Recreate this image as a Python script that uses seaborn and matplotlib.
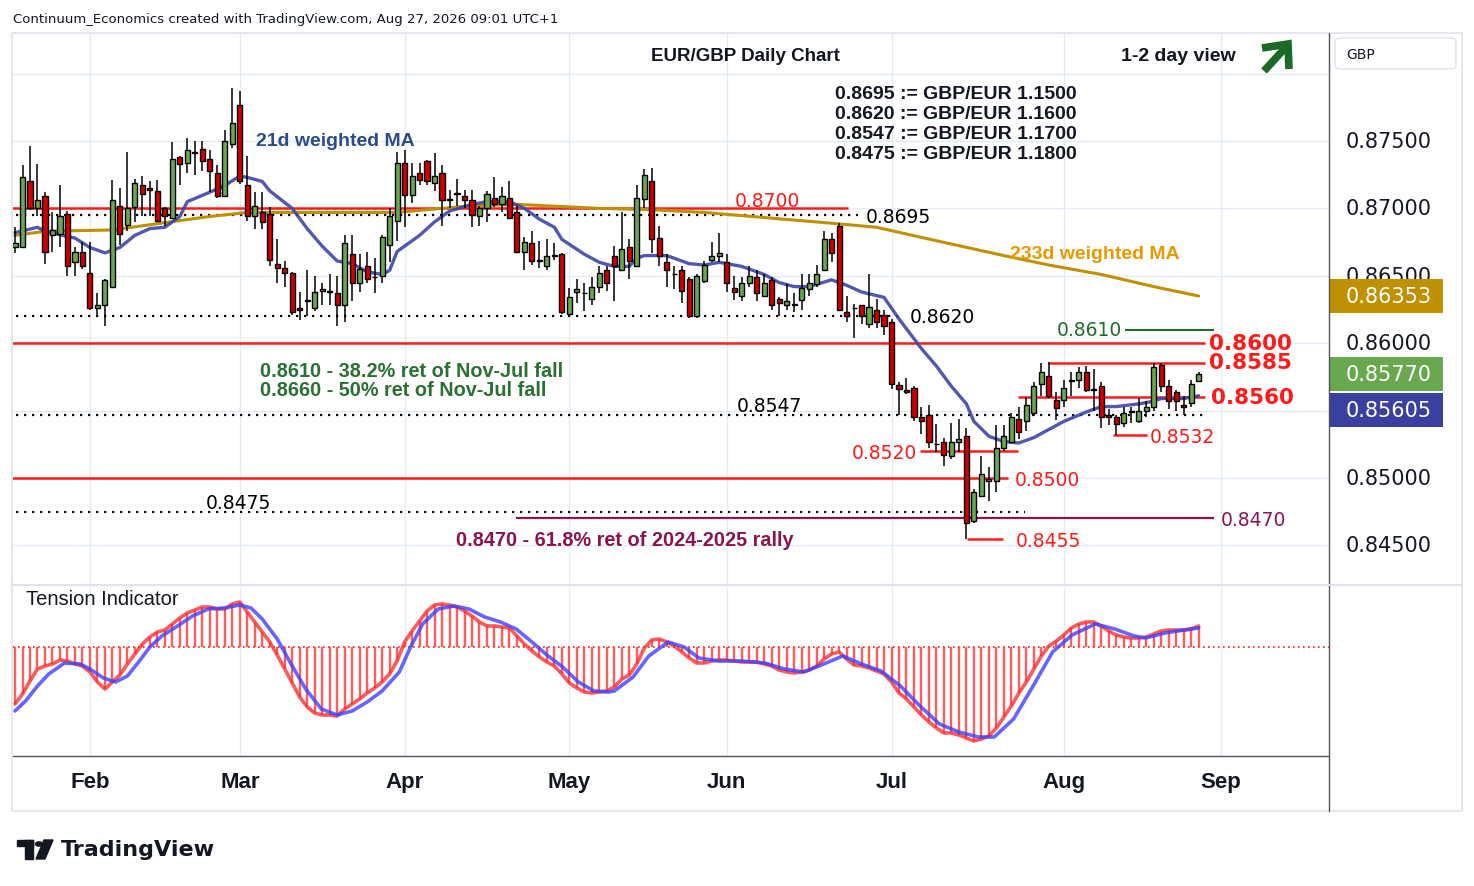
import numpy as np
import pandas as pd
import seaborn as sns
import matplotlib.pyplot as plt
from matplotlib.patches import Rectangle, FancyBboxPatch, Polygon, Circle
from matplotlib.lines import Line2D

# daily EUR/GBP candles, one per trading day (Jan 19 .. Aug 27)
opens = [0.8671, 0.8671, 0.8720, 0.8700, 0.8709, 0.8680, 0.8681, 0.8696, 0.8660, 0.8668,
         0.8652, 0.8626, 0.8628, 0.8642, 0.8702, 0.8688, 0.8701, 0.8717, 0.8715, 0.8713,
         0.8700, 0.8693, 0.8738, 0.8734, 0.8742, 0.8744, 0.8737, 0.8726, 0.8709, 0.8748,
         0.8777, 0.8717, 0.8694, 0.8697, 0.8696, 0.8659, 0.8656, 0.8652, 0.8626, 0.8631,
         0.8626, 0.8639, 0.86385, 0.8637, 0.8628, 0.8666, 0.8645, 0.8657, 0.8649, 0.8650,
         0.8673, 0.8691, 0.8734, 0.8710, 0.8726, 0.8735, 0.8719, 0.8726, 0.8706, 0.8711,
         0.8709, 0.8706, 0.8694, 0.8700, 0.8708, 0.8703, 0.8708, 0.8697, 0.8668, 0.8674,
         0.8661, 0.8657, 0.8665, 0.8666, 0.8622, 0.8638, 0.8637, 0.8633, 0.8642, 0.8654,
         0.8665, 0.8654, 0.8671, 0.8657, 0.8707, 0.8720, 0.8678, 0.8660, 0.8651, 0.8654,
         0.8648, 0.8620, 0.8646, 0.8662, 0.8665, 0.8660, 0.8641, 0.8635, 0.8645, 0.8649,
         0.8635, 0.8647, 0.8633, 0.8628, 0.8629, 0.8632, 0.8640, 0.8644, 0.8654, 0.8677,
         0.8687, 0.8623, 0.8626, 0.8628, 0.8614, 0.8625, 0.8621, 0.8616, 0.8569, 0.8565,
         0.8567, 0.8545, 0.8547, 0.8525, 0.8527, 0.8516, 0.8527, 0.8531, 0.8468, 0.8487,
         0.8498, 0.8498, 0.8522, 0.8527, 0.8544, 0.8542, 0.8548, 0.8570, 0.8576, 0.8558,
         0.8558, 0.8572, 0.8573, 0.8579, 0.8565, 0.8568, 0.8547, 0.8545, 0.8541, 0.8549,
         0.8542, 0.8550, 0.8553, 0.8584, 0.8568, 0.8564, 0.8554, 0.8556, 0.8572]
highs = [0.8686, 0.8732, 0.8746, 0.8733, 0.8712, 0.8697, 0.8717, 0.8698, 0.8671, 0.8675,
         0.8675, 0.8637, 0.8648, 0.8721, 0.8715, 0.8742, 0.8722, 0.8724, 0.8720, 0.8721,
         0.8701, 0.8749, 0.8739, 0.8752, 0.8750, 0.8750, 0.8743, 0.8732, 0.8758, 0.8789,
         0.8787, 0.8739, 0.8712, 0.8712, 0.8701, 0.8677, 0.8661, 0.8653, 0.8638, 0.8654,
         0.8650, 0.8645, 0.8651, 0.8650, 0.8680, 0.8680, 0.8666, 0.8668, 0.8663, 0.8680,
         0.8700, 0.8742, 0.8743, 0.8734, 0.8734, 0.8736, 0.8741, 0.8732, 0.8714, 0.8722,
         0.8714, 0.8714, 0.8702, 0.8713, 0.8723, 0.8716, 0.8720, 0.8702, 0.8679, 0.8683,
         0.8676, 0.8677, 0.8674, 0.8667, 0.8641, 0.8648, 0.8645, 0.8649, 0.8657, 0.8657,
         0.8672, 0.8697, 0.8677, 0.8717, 0.8729, 0.8730, 0.8687, 0.8666, 0.8657, 0.8657,
         0.8649, 0.8651, 0.8661, 0.8675, 0.8682, 0.8666, 0.8650, 0.8649, 0.8657, 0.8654,
         0.8651, 0.8649, 0.8634, 0.8644, 0.8637, 0.8651, 0.8651, 0.8658, 0.8683, 0.8682,
         0.8689, 0.8635, 0.8629, 0.8628, 0.8651, 0.8633, 0.8625, 0.8618, 0.8571, 0.8574,
         0.8568, 0.8553, 0.8554, 0.8540, 0.8530, 0.8541, 0.8544, 0.8537, 0.8492, 0.8516,
         0.8508, 0.8539, 0.8539, 0.8548, 0.8553, 0.8560, 0.8571, 0.8585, 0.8586, 0.8564,
         0.8573, 0.8579, 0.8582, 0.8583, 0.8581, 0.8571, 0.8551, 0.8547, 0.8553, 0.8553,
         0.8559, 0.8557, 0.8585, 0.8585, 0.8573, 0.8565, 0.8561, 0.8573, 0.8579]
lows = [0.8667, 0.8671, 0.8699, 0.8694, 0.8659, 0.8668, 0.8671, 0.8650, 0.8650, 0.8655,
        0.8625, 0.8620, 0.8613, 0.8641, 0.8673, 0.8683, 0.8690, 0.8694, 0.8694, 0.8690,
        0.8687, 0.8692, 0.8717, 0.8726, 0.8725, 0.8728, 0.8712, 0.8708, 0.8709, 0.8745,
        0.8718, 0.8691, 0.8685, 0.8685, 0.8657, 0.8645, 0.8642, 0.8621, 0.8617, 0.8620,
        0.8624, 0.8628, 0.8628, 0.8613, 0.8616, 0.8631, 0.8638, 0.8645, 0.8637, 0.8645,
        0.8660, 0.8676, 0.8686, 0.8704, 0.8717, 0.8717, 0.8713, 0.8687, 0.8700, 0.8702,
        0.8700, 0.8686, 0.8687, 0.8690, 0.8701, 0.8697, 0.8692, 0.8667, 0.8654, 0.8658,
        0.8656, 0.8654, 0.8662, 0.8622, 0.8620, 0.8630, 0.8624, 0.8628, 0.8637, 0.8639,
        0.8631, 0.8654, 0.8648, 0.8657, 0.8700, 0.8667, 0.8657, 0.8642, 0.8640, 0.8630,
        0.8619, 0.8619, 0.8645, 0.8660, 0.8660, 0.8638, 0.8632, 0.8631, 0.8642, 0.8631,
        0.8634, 0.8625, 0.8620, 0.8625, 0.8623, 0.8625, 0.8635, 0.8642, 0.8654, 0.8660,
        0.8624, 0.8616, 0.8604, 0.8614, 0.8611, 0.8611, 0.8606, 0.8566, 0.8547, 0.8562,
        0.8542, 0.8533, 0.8522, 0.8519, 0.8509, 0.8514, 0.8519, 0.8455, 0.8467, 0.8487,
        0.8483, 0.8490, 0.8520, 0.8527, 0.8529, 0.8535, 0.8546, 0.8561, 0.8559, 0.8543,
        0.8553, 0.8561, 0.8567, 0.8564, 0.8550, 0.8537, 0.8539, 0.8532, 0.8538, 0.8541,
        0.8541, 0.8545, 0.8550, 0.8564, 0.8551, 0.8550, 0.8547, 0.8553, 0.8571]
closes = [0.8674, 0.8723, 0.8700, 0.8706, 0.8668, 0.8684, 0.8694, 0.8657, 0.8668, 0.8657,
          0.8626, 0.8628, 0.8647, 0.8706, 0.8681, 0.8700, 0.8719, 0.8711, 0.8714, 0.8691,
          0.8694, 0.8737, 0.8733, 0.8743, 0.8741, 0.8735, 0.8728, 0.8709, 0.8750, 0.8763,
          0.8720, 0.8694, 0.8702, 0.8690, 0.8662, 0.8656, 0.8652, 0.8623, 0.8625, 0.8632,
          0.8638, 0.8640, 0.8638, 0.8628, 0.8674, 0.8645, 0.8655, 0.8648, 0.8649, 0.8679,
          0.8694, 0.8734, 0.8710, 0.8724, 0.8721, 0.8720, 0.8724, 0.8706, 0.8707, 0.8711,
          0.8706, 0.8695, 0.8700, 0.8711, 0.8703, 0.8709, 0.8693, 0.8668, 0.8675, 0.8661,
          0.8661, 0.8665, 0.8665, 0.8623, 0.8634, 0.8640, 0.8637, 0.8642, 0.8652, 0.8645,
          0.8657, 0.8670, 0.8661, 0.8708, 0.8725, 0.8677, 0.8665, 0.8654, 0.8651, 0.8639,
          0.8620, 0.8650, 0.8658, 0.8665, 0.8667, 0.8645, 0.8638, 0.8645, 0.8650, 0.8637,
          0.8645, 0.8628, 0.8630, 0.8631, 0.8628, 0.8641, 0.8645, 0.8651, 0.8677, 0.8667,
          0.8625, 0.8620, 0.8626, 0.8620, 0.8627, 0.8616, 0.8613, 0.8570, 0.8566, 0.8564,
          0.8545, 0.8542, 0.8527, 0.8525, 0.8517, 0.8527, 0.8529, 0.8467, 0.8490, 0.8503,
          0.8499, 0.8522, 0.8531, 0.8545, 0.8534, 0.8554, 0.8568, 0.8579, 0.8561, 0.8552,
          0.8567, 0.8572, 0.8579, 0.8565, 0.8566, 0.8545, 0.8545, 0.8540, 0.8548, 0.8549,
          0.8550, 0.8553, 0.8582, 0.8568, 0.8557, 0.8557, 0.8553, 0.8570, 0.8577]

months = ['Feb', 'Mar', 'Apr', 'May', 'Jun', 'Jul', 'Aug', 'Sep']
month_bar = [10, 30, 52, 74, 95, 117, 140, 161]

# moving averages (bar index, value)
wma21_bar = [0, 3, 4, 8, 10, 12, 14, 16, 18, 20, 22, 23, 26, 28, 30, 31, 33, 34, 37, 39,
             41, 43, 45, 47, 49, 50, 51, 54, 56, 58, 61, 63, 66, 68, 70, 72, 73, 76, 78, 80,
             82, 83, 84, 87, 89, 90, 92, 94, 97, 100, 102, 104, 106, 109, 111, 113, 116, 118, 121, 123,
             125, 127, 128, 130, 132, 134, 136, 138, 140, 143, 145, 147, 150, 152, 153, 156, 158]
wma21 = [0.8682, 0.8686, 0.8683, 0.8678, 0.8671, 0.8667, 0.8671, 0.8680, 0.8685, 0.8686,
         0.8694, 0.8705, 0.8712, 0.8717, 0.8724, 0.8723, 0.8720, 0.8713, 0.8700, 0.8685,
         0.8672, 0.8661, 0.8659, 0.8653, 0.8651, 0.8654, 0.8668, 0.8680, 0.8690, 0.8698,
         0.8703, 0.8705, 0.8705, 0.8700, 0.8692, 0.8686, 0.8677, 0.8666, 0.8660, 0.8657,
         0.8657, 0.8663, 0.8665, 0.8665, 0.8661, 0.8659, 0.8658, 0.8660, 0.8657, 0.8651,
         0.8645, 0.8642, 0.8642, 0.8647, 0.8643, 0.8638, 0.8634, 0.8618, 0.8596, 0.8583,
         0.8568, 0.8555, 0.8542, 0.8531, 0.8527, 0.8526, 0.8530, 0.8536, 0.8542, 0.8549,
         0.8553, 0.8553, 0.8555, 0.8557, 0.8559, 0.8559, 0.8561]
wma233_bar = [0, 4, 13, 22, 26, 31, 51, 61, 67, 78, 85, 92, 109, 115, 123, 132, 138, 145, 152, 158]
wma233 = [0.8680, 0.8683, 0.8684, 0.8691, 0.8694, 0.8697, 0.8697, 0.8702, 0.8703, 0.8700,
          0.8699, 0.8697, 0.8689, 0.8686, 0.8676, 0.8665, 0.8658, 0.8651, 0.8642, 0.8635]

# tension indicator (one value per bar) and its signal line
tension = [-57, -47, -34, -22, -19, -17, -13, -14, -17, -19,
           -25, -35, -42, -35, -28, -17, -7, 3, 10, 15,
           17, 23, 29, 34, 37, 40, 40, 38, 38, 43,
           45, 35, 25, 15, 5, -8, -22, -36, -50, -60,
           -66, -68, -68, -69, -62, -57, -52, -46, -41, -35,
           -27, -14, 5, 16, 26, 36, 42, 43, 42, 40,
           36, 31, 25, 21, 21, 20, 19, 11, 3, -4,
           -10, -15, -19, -27, -36, -41, -45, -46, -45, -44,
           -40, -32, -28, -17, -1, 7, 8, 5, 1, -5,
           -11, -16, -16, -14, -13, -13, -14, -15, -15, -15,
           -17, -19, -23, -25, -26, -25, -23, -19, -12, -7,
           -5, -12, -18, -19, -21, -24, -27, -35, -46, -52,
           -60, -68, -75, -81, -86, -86, -88, -91, -94, -92,
           -89, -81, -70, -59, -46, -35, -22, -9, 1, 6,
           12, 19, 23, 25, 25, 21, 16, 12, 10, 9,
           9, 10, 13, 16, 17, 17, 17, 18, 21]
signal_bar = [0, 1.4, 3, 4.5, 6.6, 8.7, 10, 11.8, 13.4, 15, 16.5, 18, 19.6, 21.7, 23.7, 25.8, 27.9, 30,
              31.5, 33, 35, 36.7, 38.8, 40.9, 43, 45, 47, 49, 51.3, 52.8, 54.4, 56.5, 58.6, 60.6,
              62.7, 64.8, 66.9, 69, 71, 73.1, 75.2, 77.3, 79.3, 80, 82.5, 84.6, 87.2, 89.3, 91.3,
              93.9, 97, 100.1, 102.7, 105.3, 107.3, 110.5, 113, 115.6, 118.2, 120.8, 123.4, 126,
              128.6, 130.7, 133.3, 135.9, 138.5, 141.1, 144.2, 146.8, 149.4, 150.9, 153.5, 156.1, 158]
signal = [-64, -54, -39, -27, -16, -17, -22, -31, -35, -29, -15, 0, 11, 21, 31, 38, 39, 42,
          39, 28, 8, -15, -42, -62, -68, -64, -55, -44, -25, 0, 23, 38, 41, 38,
          30, 25, 18, 5, -8, -20, -35, -44, -45, -44, -30, -9, 5, 0, -11,
          -14, -14, -16, -22, -25, -19, -9, -17, -24, -39, -59, -77, -85,
          -90, -90, -72, -39, -5, 12, 23, 18, 11, 9, 14, 17, 19]

price_ticks = [0.845, 0.850, 0.855, 0.860, 0.865, 0.870, 0.875]

df = pd.DataFrame({'open': opens, 'high': highs, 'low': lows, 'close': closes})
df['bar'] = np.arange(len(df))

sns.set_theme(style='white')
plt.rcParams['font.family'] = ['DejaVu Sans']

W, H = 1474, 887
def fx(x):
    return x / W
def fy(y):
    return 1 - y / H

fig = plt.figure(figsize=(W / 100, H / 100), dpi=100)
fig.patch.set_facecolor('white')
ax = fig.add_axes([fx(13), fy(585), (1329 - 13) / W, (585 - 34) / H])
axi = fig.add_axes([fx(13), fy(757), (1329 - 13) / W, (757 - 588) / H])

GRID = '#e4ebf4'
RED = '#ff1a1a'
TXT = '#131722'
NARROW = 'Liberation Sans'

for a in (ax, axi):
    a.set_facecolor('white')
    for s in a.spines.values():
        s.set_visible(False)
    a.set_xlim(-0.27, 175.4)
    for b in month_bar:
        a.axvline(b, color=GRID, lw=1, zorder=0)
for p in price_ticks + [0.880]:
    ax.axhline(p, color=GRID, lw=1, zorder=0)

# level lines
def level(y, x0, x1, color, ls='-', lw=1.8):
    ax.plot([x0, x1], [y, y], color=color, ls=ls, lw=lw, zorder=1.5, solid_capstyle='butt')

dots = (0, (1, 2.6))
level(0.8700, -1, 111.2, RED)
level(0.8695, -1, 112.5, 'black', dots, 1.6)
level(0.8620, -1, 118.6, 'black', dots, 1.6)
level(0.8600, -1, 158.9, RED)
level(0.8610, 148.2, 160.0, '#1e6e2a', '-', 1.5)
level(0.8585, 137.9, 158.9, RED)
level(0.8560, 133.9, 158.9, RED)
level(0.8547, -1, 158.9, 'black', dots, 1.6)
level(0.8532, 146.6, 151.1, RED)
level(0.8520, 120.8, 133.9, RED)
level(0.8500, -1, 132.6, RED)
level(0.8475, -1, 134.8, 'black', dots, 1.6)
level(0.8470, 66.9, 160.0, '#8a1450', '-', 1.6)
level(0.8455, 127.1, 131.9, RED)

# moving averages
sns.lineplot(x=wma233_bar, y=wma233, ax=ax, color='#bf9000', linewidth=2.2, zorder=2)
sns.lineplot(x=wma21_bar, y=wma21, ax=ax, color='#3f45a8', linewidth=2.4, alpha=0.9, zorder=2)

# candles
up = df['close'] > df['open']
dn = df['close'] < df['open']
ax.vlines(df['bar'], df['low'], df['high'], color='black', lw=1.1, zorder=3)
body_lo = np.minimum(df['open'], df['close'])
body_h = np.maximum((df['close'] - df['open']).abs(), 0.00004)
colors = np.where(up, '#6aa84f', np.where(dn, '#d00000', 'black'))
ax.bar(df['bar'], body_h, bottom=body_lo, width=0.68, color=colors,
       edgecolor='black', linewidth=1.0, zorder=4)

ax.set_ylim(0.84214, 0.88301)
ax.set_xticks([])
ax.set_yticks([])
ax.set_xlabel('')
ax.set_ylabel('')

# texts in the main panel
ax.text(97.5, 0.88132, 'EUR/GBP Daily Chart', ha='center', va='center', fontsize=13.5,
        fontweight='bold', color=TXT, family=NARROW)
ax.text(155.3, 0.88132, '1-2 day view', ha='center', va='center', fontsize=14,
        fontweight='bold', color=TXT, family=NARROW)
block = ['0.8695 := GBP/EUR 1.1500', '0.8620 := GBP/EUR 1.1600',
         '0.8547 := GBP/EUR 1.1700', '0.8475 := GBP/EUR 1.1800']
for i, t in enumerate(block):
    ax.text(109.5, 0.87849 - i * 0.001484, t, ha='left', va='center', fontsize=14,
            color=TXT, fontweight='bold', family=NARROW)
ax.text(32.2, 0.87500, '21d weighted MA', ha='left', va='center', fontsize=14,
        color='#2c4b8c', fontweight='bold', family=NARROW)
ax.text(132.8, 0.86662, '233d weighted MA', ha='left', va='center', fontsize=14,
        color='#e69a00', fontweight='bold', family=NARROW)
ax.text(32.7, 0.85801, '0.8610 - 38.2% ret of Nov-Jul fall', ha='left', va='center',
        fontsize=14.3, color='#2a7030', fontweight='bold', family=NARROW)
ax.text(32.7, 0.85653, '0.8660 - 50% ret of Nov-Jul fall', ha='left', va='center',
        fontsize=14.3, color='#2a7030', fontweight='bold', family=NARROW)
ax.text(58.9, 0.84547, '0.8470 - 61.8% ret of 2024-2025 rally', ha='left', va='center',
        fontsize=14.3, color='#8a1450', fontweight='bold', family=NARROW)

small = dict(fontsize=13.5, va='center')
ax.text(100.4, 0.8706, '0.8700', ha='center', color=RED, **small)
ax.text(113.5, 0.8694, '0.8695', ha='left', color='black', **small)
ax.text(119.5, 0.8620, '0.8620', ha='left', color='black', **small)
ax.text(147.8, 0.8610, '0.8610', ha='right', color='#1e6e2a', **small)
ax.text(96.4, 0.8554, '0.8547', ha='left', color='black', **small)
ax.text(151.5, 0.8531, '0.8532', ha='left', color=RED, **small)
ax.text(120.4, 0.8519, '0.8520', ha='right', color=RED, **small)
ax.text(133.5, 0.8499, '0.8500', ha='left', color=RED, **small)
ax.text(25.4, 0.8482, '0.8475', ha='left', color='black', **small)
ax.text(161.0, 0.8469, '0.8470', ha='left', color='#8a1450', **small)
ax.text(133.6, 0.8454, '0.8455', ha='left', color=RED, **small)
big = dict(fontsize=15.5, fontweight='bold', va='center', ha='left', color=RED)
ax.text(159.4, 0.8600, '0.8600', **big)
ax.text(159.4, 0.8586, '0.8585', **big)
ax.text(159.6, 0.8560, '0.8560', **big)

# price scale on the right
ytr = ax.get_yaxis_transform()
for p in price_ticks:
    ax.text(1.0129, p, f'{p:.5f}', transform=ytr, fontsize=15, ha='left', va='center',
            color=TXT, clip_on=False, zorder=6)
for val, ypos, col in [(0.86353, 0.86353, '#bf9000'), (0.85770, 0.85770, '#6aa84f'),
                       (0.85605, 0.85504, '#3a40a0')]:
    ax.add_patch(Rectangle((1.0008, ypos - 0.00126), 0.0858, 0.00252, transform=ytr,
                           facecolor=col, edgecolor='none', clip_on=False, zorder=10))
    ax.text(1.0129, ypos, f'{val:.5f}', transform=ytr, fontsize=15, ha='left', va='center',
            color='white', clip_on=False, zorder=11)

# tension indicator
axi.axhline(0, color=RED, ls=(0, (1, 2)), lw=1.2, zorder=1)
axi.vlines(df['bar'], 0, tension, color='#ff4040', lw=1.7, alpha=0.85, zorder=2)
sns.lineplot(x=df['bar'], y=tension, ax=axi, color='#ff3030', linewidth=2.6, alpha=0.8, zorder=3)
sns.lineplot(x=signal_bar, y=signal, ax=axi, color='#4040ff', linewidth=2.6, alpha=0.8, zorder=4)
axi.set_ylim(-109, 60)
axi.set_xlim(-0.27, 175.4)
axi.set_yticks([])
axi.set_xlabel('')
axi.set_ylabel('')
axi.set_xticks(month_bar)
axi.set_xticklabels(months, fontsize=16, color=TXT, fontweight='bold', family=NARROW)
axi.tick_params(axis='x', length=0, pad=11)
axi.text(0.01, 0.93, 'Tension Indicator', transform=axi.transAxes, fontsize=14.5, color=TXT,
         ha='left', va='center', family=NARROW)

# frame and separators
fig.add_artist(Rectangle((fx(12), fy(812)), (1462 - 12) / W, (812 - 34) / H, fill=False,
                         edgecolor='#e0e3eb', lw=1.2, transform=fig.transFigure))
fig.add_artist(Line2D([fx(1329), fx(1329)], [fy(34), fy(812)], color='#50535e', lw=1))
fig.add_artist(Line2D([fx(13), fx(1462)], [fy(586), fy(586)], color='#e0e3eb', lw=1.5))
fig.add_artist(Line2D([fx(13), fx(1329)], [fy(757), fy(757)], color='#50535e', lw=1))

# currency box
fig.add_artist(FancyBboxPatch((fx(1335), fy(70)), (1456 - 1335) / W, 31 / H,
                              boxstyle='round,pad=0,rounding_size=0.004',
                              fc='white', ec='#e0e3eb', lw=1, transform=fig.transFigure))
fig.text(fx(1346), fy(55), 'GBP', fontsize=10, color=TXT, va='center')

# view arrow
ARROW = '#1c6a27'
fig.add_artist(Line2D([fx(1264), fx(1286)], [fy(72), fy(48)], color=ARROW, lw=5.5,
                      solid_capstyle='butt'))
fig.add_artist(Line2D([fx(1262), fx(1288), fx(1289)], [fy(49), fy(45), fy(70)], color=ARROW,
                      lw=5.5, solid_capstyle='butt', solid_joinstyle='miter'))

# header and footer
fig.text(fx(13), fy(19), 'Continuum_Economics created with TradingView.com, Aug 27, 2026 09:01 UTC+1',
         fontsize=9.5, color=TXT, va='center')
fig.add_artist(Rectangle((fx(17), fy(847)), 16 / W, 6 / H, color=TXT, transform=fig.transFigure))
fig.add_artist(Rectangle((fx(25), fy(860)), 8 / W, 19 / H, color=TXT, transform=fig.transFigure))
fig.add_artist(Circle((fx(39), fy(845)), 3.5 / W, color=TXT, transform=fig.transFigure))
fig.add_artist(Polygon([(fx(44), fy(841)), (fx(53), fy(841)), (fx(45), fy(860)), (fx(36), fy(860))],
                       closed=True, color=TXT, transform=fig.transFigure))
fig.text(fx(61), fy(850), 'TradingView', fontsize=16, fontweight='bold', color=TXT, va='center')

fig.savefig('out.png', dpi=100)
